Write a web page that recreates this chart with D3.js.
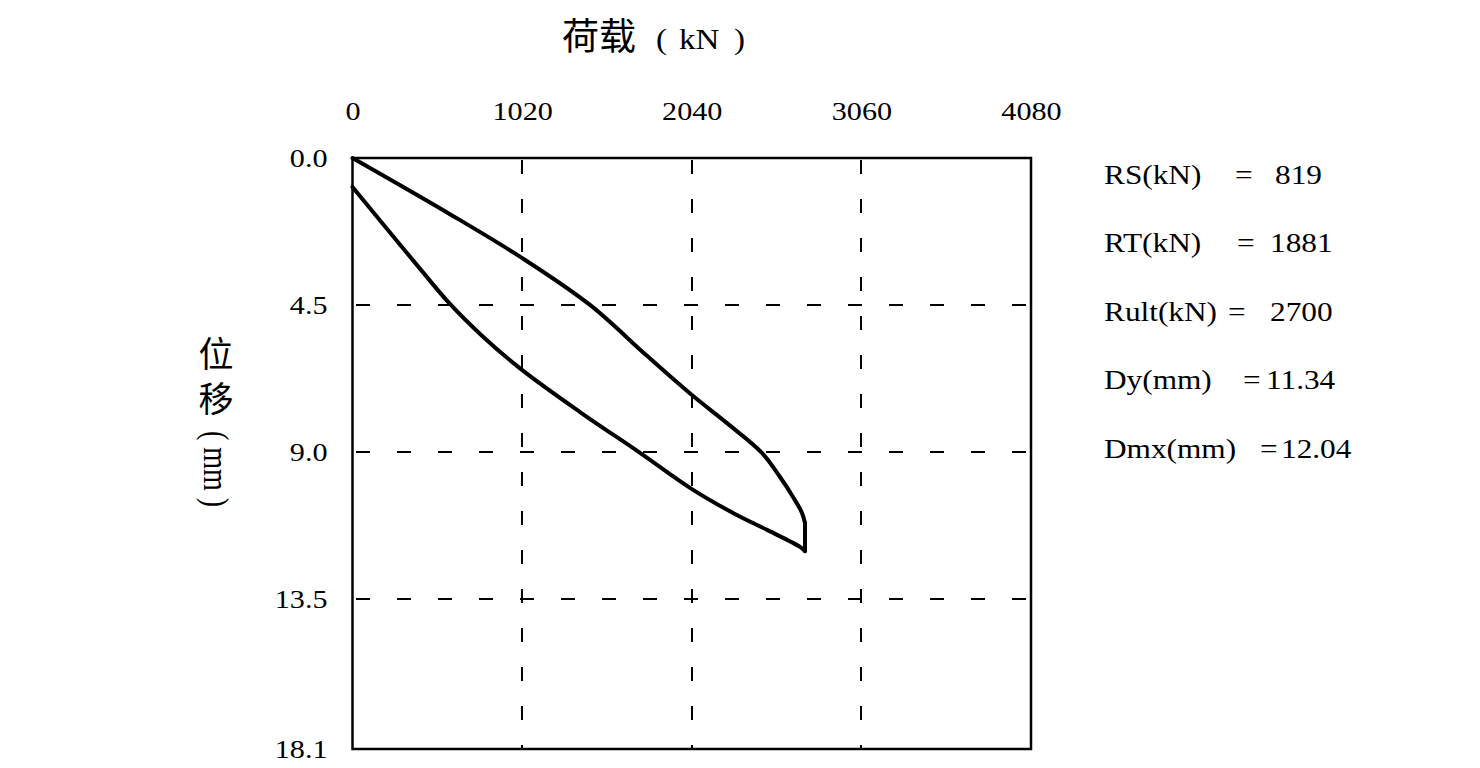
<!DOCTYPE html>
<html><head><meta charset="utf-8">
<script src="https://cdn.jsdelivr.net/npm/d3@7"></script>
<style>body{margin:0;background:#fff}svg{display:block}</style>
</head><body>
<svg id="c" width="1480" height="768"></svg>
<script>
// ---- data ----
const xTicks = [0, 1020, 2040, 3060, 4080];
const yTicks = [0, 4.5, 9.0, 13.5, 18.1];
const xGrid = [1020, 2040, 3060];
const yGrid = [4.5, 9.0, 13.5];
// loading branch (kN, mm)
const loadUp = [0, 586, 1019, 1428, 1771, 2041, 2252, 2462, 2571, 2649, 2703, 2721];
const dispUp = [0, 1.72, 3.06, 4.50, 6.06, 7.26, 8.12, 9.03, 9.77, 10.38, 10.87, 11.18];
// hold at peak load (kN, mm)
const loadHold = [2721, 2721];
const dispHold = [11.18, 12.04];
// unloading branch (kN, mm)
const loadDown = [2721, 2691, 2493, 2288, 2041, 1729, 1368, 1019, 780, 586, 388, 183, 0];
const dispDown = [12.04, 11.91, 11.39, 10.87, 10.14, 9.03, 7.78, 6.49, 5.45, 4.47, 3.28, 2.02, 0.89];
const resLabels = ["RS(kN)", "RT(kN)", "Rult(kN)", "Dy(mm)", "Dmx(mm)"];
const resValues = ["819", "1881", "2700", "11.34", "12.04"];
const xTitle = "荷载";
const xUnit = ["(", "kN", ")"];
const yTitle = "位移";
const yUnit = "( mm )";

// ---- layout ----
const svg = d3.select("#c");
const X0 = 352.5, X1 = 1031, Y0 = 158, Y1 = 749;
const x = d3.scaleLinear().domain([0, 4080]).range([X0, X1]);
const y = d3.scaleLinear().domain([0, 18.1]).range([Y0, Y1]);
const serif = "'Liberation Serif','Times New Roman',serif";
const cjk = "'Noto Sans CJK SC','Noto Sans CJK JP',sans-serif";
const SX = 1.16;

// grid
svg.append("g").attr("shape-rendering", "crispEdges").selectAll("line").data(xGrid).join("line")
  .attr("x1", d => Math.round(x(d))).attr("x2", d => Math.round(x(d))).attr("y1", Y0 + 2).attr("y2", Y1)
  .attr("stroke", "#000").attr("stroke-width", 2).attr("stroke-dasharray", "14,25");
svg.append("g").attr("shape-rendering", "crispEdges").selectAll("line").data(yGrid).join("line")
  .attr("x1", X0 + 3).attr("x2", X1).attr("y1", d => Math.round(y(d))).attr("y2", d => Math.round(y(d)))
  .attr("stroke", "#000").attr("stroke-width", 2).attr("stroke-dasharray", "14,27");

// frame
svg.append("rect").attr("x", X0).attr("y", Y0).attr("width", X1 - X0).attr("height", Y1 - Y0)
  .attr("fill", "none").attr("stroke", "#000").attr("stroke-width", 2.5);

// axes
const gx = svg.append("g").attr("transform", `translate(0,${Y0})`)
  .call(d3.axisTop(x).tickValues(xTicks).tickSize(0).tickPadding(38).tickFormat(d3.format("d")));
gx.select(".domain").remove();
gx.selectAll("text").attr("font-family", serif).attr("font-size", 26).attr("fill", "#000")
  .attr("transform", `scale(${SX},1)`);

const gy = svg.append("g").attr("transform", `translate(${X0},0)`)
  .call(d3.axisLeft(y).tickValues(yTicks).tickSize(0).tickFormat(d3.format(".1f")));
gy.select(".domain").remove();
gy.selectAll("text").attr("font-family", serif).attr("font-size", 26).attr("fill", "#000")
  .attr("x", -25 / SX).attr("transform", `scale(${SX},1)`);

// curves
const smooth = d3.line().x(d => x(d[0])).y(d => y(d[1])).curve(d3.curveCatmullRom.alpha(0.5));
const straight = d3.line().x(d => x(d[0])).y(d => y(d[1]));
const up = loadUp.map((v, i) => [v, dispUp[i]]);
const hold = loadHold.map((v, i) => [v, dispHold[i]]);
const down = loadDown.map((v, i) => [v, dispDown[i]]);
const curveG = svg.append("g").attr("fill", "none").attr("stroke", "#000").attr("stroke-width", 4)
  .attr("stroke-linejoin", "round").attr("stroke-linecap", "round");
curveG.append("path").attr("d", smooth(up));
curveG.append("path").attr("d", straight(hold));
curveG.append("path").attr("d", smooth(down));

// x title
svg.append("text").attr("x", 562).attr("y", 50).attr("font-family", cjk).attr("font-size", 37)
  .attr("fill", "#000").text(xTitle);
const xuPos = [656, 679, 734];
xUnit.forEach((t, i) => {
  svg.append("text").attr("transform", `translate(${xuPos[i]},49) scale(1.1,1)`)
    .attr("font-family", serif).attr("font-size", 30).attr("fill", "#000").text(t);
});

// y title (vertical)
svg.append("text").attr("x", 216).attr("y", 381).attr("writing-mode", "vertical-rl")
  .attr("text-anchor", "middle").attr("letter-spacing", 10)
  .attr("font-family", cjk).attr("font-size", 35).attr("fill", "#000").text(yTitle);
svg.append("text").attr("transform", "translate(216,469) rotate(90) scale(1,1.3)").attr("text-anchor", "middle")
  .attr("dominant-baseline", "central").attr("font-family", serif).attr("font-size", 28)
  .attr("fill", "#000").text(yUnit);

// result annotations
const eqX = [1235, 1237, 1228, 1243, 1260];
const valX = [1275, 1270, 1270, 1266, 1281];
resLabels.forEach((lab, i) => {
  const by = 184 + i * 68.4;
  const g = svg.append("g").attr("font-family", serif).attr("font-size", 27).attr("fill", "#000");
  g.append("text").attr("transform", `translate(1104,${by}) scale(${SX},1)`).text(lab);
  g.append("text").attr("transform", `translate(${eqX[i]},${by}) scale(${SX},1)`).text("=");
  g.append("text").attr("transform", `translate(${valX[i]},${by}) scale(${SX},1)`).text(resValues[i]);
});
</script>
</body></html>
